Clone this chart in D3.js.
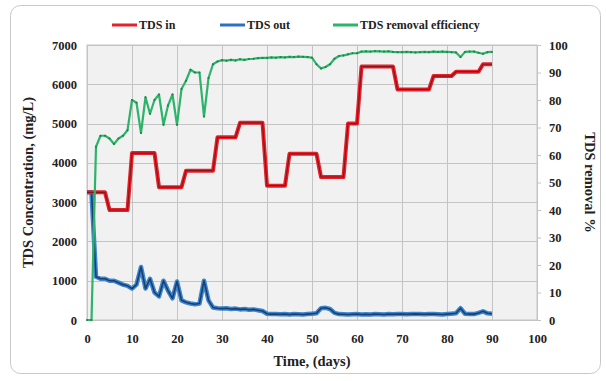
<!DOCTYPE html>
<meta charset="utf-8">
<style>
  body { margin: 0; background: #fff; }
  svg { position: absolute; top: 0; left: 0; }
  text { font-family: 'Liberation Serif', 'Times New Roman', serif; font-weight: bold; fill: #222; }
  .tick text { font-size: 12.5px; }
  .grid line { stroke: #c4c4c4; stroke-width: 1; }
  .legend-text { font-size: 12px; }
  .title { font-size: 14.5px; }
</style>
<script src="https://cdn.jsdelivr.net/npm/d3@7"></script>
<svg width="606" height="381"></svg>
<script>
  // days 0..90
  var days = d3.range(0, 91);

  var tdsIn = [
    3250, 3250, 3250, 3250, 3250, 2800, 2800, 2800, 2800, 2800,
    4250, 4250, 4250, 4250, 4250, 4250, 3380, 3380, 3380, 3380,
    3380, 3380, 3800, 3800, 3800, 3800, 3800, 3800, 3800, 4650,
    4650, 4650, 4650, 4650, 5020, 5020, 5020, 5020, 5020, 5020,
    3420, 3420, 3420, 3420, 3420, 4230, 4230, 4230, 4230, 4230,
    4230, 4230, 3640, 3640, 3640, 3640, 3640, 3640, 5000, 5000,
    5000, 6450, 6450, 6450, 6450, 6450, 6450, 6450, 6450, 5870,
    5870, 5870, 5870, 5870, 5870, 5870, 5870, 6210, 6210, 6210,
    6210, 6210, 6320, 6320, 6320, 6320, 6320, 6320, 6510, 6510,
    6510
  ];

  var tdsOut = [
    3250, 3250, 1100, 1050, 1050, 1000, 1000, 950, 900, 870,
    800, 900, 1350, 800, 1050, 700, 600, 1000, 750, 550,
    980, 500, 450, 420, 400, 420, 1000, 500, 320, 300,
    290, 300, 280, 290, 270, 280, 260, 270, 250, 230,
    160, 150, 150, 145, 150, 140, 150, 145, 140, 150,
    160, 170, 300, 310, 280, 180, 150, 145, 140, 145,
    150, 140, 145, 140, 150, 145, 140, 150, 145, 150,
    150, 145, 150, 155, 150, 145, 150, 150, 145, 140,
    150, 160, 170, 300, 160, 150, 150, 180, 220, 170,
    160
  ];

  var removal = [
    0, 0, 63, 67, 67, 66, 64, 66, 67, 69,
    80, 79, 68, 81, 75, 80, 82, 71, 78, 82,
    71, 84, 87, 91, 90, 90, 74, 88, 93, 94,
    94.5, 94.3, 94.6, 94.4, 94.8, 94.6, 94.9, 95, 95.2, 95.3,
    95.3, 95.5, 95.4, 95.6, 95.5, 95.7, 95.6, 95.8, 95.7, 95.6,
    95.4, 93, 91.5, 92, 93, 95, 96, 96.2, 96.6, 97,
    97, 97.6, 97.7, 97.6, 97.8, 97.7, 97.6, 97.7, 97.5, 97.4,
    97.4, 97.5, 97.4, 97.3, 97.4, 97.5, 97.4, 97.6, 97.5, 97.6,
    97.5, 97.4, 97.3, 95.6, 97.5, 97.6, 97.6, 97.2, 96.8, 97.4,
    97.5
  ];

  var xTicks = d3.range(0, 101, 10);
  var yLeftTicks = d3.range(0, 7001, 1000);
  var yRightTicks = d3.range(0, 101, 10);

  var series = [
    { name: "TDS in", color: "#e8202a" },
    { name: "TDS out", color: "#2a72bf" },
    { name: "TDS removal efficiency", color: "#2db36a" }
  ];

  var svg = d3.select("svg");
  var pLeft = 87, pRight = 537, pTop = 45, pBottom = 320;

  var x = d3.scaleLinear().domain([0, 100]).range([pLeft, pRight]);
  var y = d3.scaleLinear().domain([0, 7000]).range([pBottom, pTop]);
  var y2 = d3.scaleLinear().domain([0, 100]).range([pBottom, pTop]);

  // chart frame
  svg.append("rect")
    .attr("x", 10.5).attr("y", 5.5)
    .attr("width", 590).attr("height", 368)
    .attr("rx", 10)
    .attr("fill", "#fff")
    .attr("stroke", "#c8c8c8");

  // plot area
  svg.append("rect")
    .attr("x", pLeft).attr("y", pTop)
    .attr("width", pRight - pLeft).attr("height", pBottom - pTop)
    .attr("fill", "#f1f1f1")
    .attr("stroke", "#c4c4c4");

  svg.append("g").attr("class", "grid")
    .selectAll("line").data(yLeftTicks).enter().append("line")
    .attr("x1", pLeft).attr("x2", pRight)
    .attr("y1", function(d) { return Math.round(y(d)) + 0.5; })
    .attr("y2", function(d) { return Math.round(y(d)) + 0.5; });

  svg.append("g").attr("class", "grid")
    .selectAll("line").data(xTicks).enter().append("line")
    .attr("y1", pTop).attr("y2", pBottom)
    .attr("x1", function(d) { return Math.round(x(d)) + 0.5; })
    .attr("x2", function(d) { return Math.round(x(d)) + 0.5; });

  // axes
  var gx = svg.append("g").attr("transform", "translate(0," + (pBottom + 8) + ")")
    .call(d3.axisBottom(x).tickValues(xTicks).tickSize(0).tickPadding(6));
  var gy = svg.append("g").attr("transform", "translate(" + (pLeft - 10) + ",0)")
    .call(d3.axisLeft(y).tickValues(yLeftTicks).tickSize(0).tickPadding(0).tickFormat(d3.format("d")));
  var gy2 = svg.append("g").attr("transform", "translate(" + pRight + ",0)")
    .call(d3.axisRight(y2).tickValues(yRightTicks).tickSize(4).tickPadding(8));
  [gx, gy, gy2].forEach(function(g) {
    g.select(".domain").remove();
    g.selectAll(".tick text").attr("fill", "#222").style("font-family", "'Liberation Serif', serif");
  });
  gy2.selectAll(".tick line").attr("stroke", "#c4c4c4");

  // lines
  var lineIn = d3.line().x(function(d, i) { return x(days[i]); }).y(function(d) { return y(d); });
  var lineEff = d3.line().x(function(d, i) { return x(days[i]); }).y(function(d) { return y2(d); });

  svg.append("path").datum(tdsOut)
    .attr("fill", "none").attr("stroke", "#3a86d0").attr("stroke-width", 4.5)
    .attr("stroke-linejoin", "round").attr("d", lineIn);
  svg.append("path").datum(tdsOut)
    .attr("fill", "none").attr("stroke", "#1d3f6e").attr("stroke-width", 1.6)
    .attr("stroke-linejoin", "round").attr("d", lineIn);

  svg.append("path").datum(tdsIn)
    .attr("fill", "none").attr("stroke", "#e8202a").attr("stroke-width", 4)
    .attr("stroke-linejoin", "round").attr("d", lineIn);
  svg.append("path").datum(tdsIn)
    .attr("fill", "none").attr("stroke", "#8e1318").attr("stroke-width", 1.2)
    .attr("stroke-linejoin", "round").attr("d", lineIn);

  svg.append("path").datum(removal)
    .attr("fill", "none").attr("stroke", "#2db36a").attr("stroke-width", 2.2)
    .attr("stroke-linejoin", "round").attr("d", lineEff);
  svg.append("g").selectAll("circle").data(removal).enter().append("circle")
    .attr("cx", function(d, i) { return x(days[i]); })
    .attr("cy", function(d) { return y2(d); })
    .attr("r", 1)
    .attr("fill", "#1c7f47");

  // axis titles
  svg.append("text").attr("class", "title")
    .attr("x", (pLeft + pRight) / 2).attr("y", 366)
    .attr("text-anchor", "middle").text("Time, (days)");
  svg.append("text").attr("class", "title")
    .attr("transform", "translate(33," + ((pTop + pBottom) / 2) + ") rotate(-90)")
    .attr("text-anchor", "middle").text("TDS Concentration, (mg/L)");
  svg.append("text").attr("class", "title")
    .attr("transform", "translate(585," + ((pTop + pBottom) / 2) + ") rotate(90)")
    .attr("text-anchor", "middle").text("TDS removal %");

  // legend
  var legendX = [112, 220, 333];
  var lg = svg.append("g").attr("transform", "translate(0,25)");
  series.forEach(function(s, i) {
    lg.append("line")
      .attr("x1", legendX[i]).attr("x2", legendX[i] + 25)
      .attr("y1", 0).attr("y2", 0)
      .attr("stroke", s.color).attr("stroke-width", 3);
    lg.append("text").attr("class", "legend-text")
      .attr("x", legendX[i] + 27).attr("y", 4)
      .text(s.name);
  });
</script>
